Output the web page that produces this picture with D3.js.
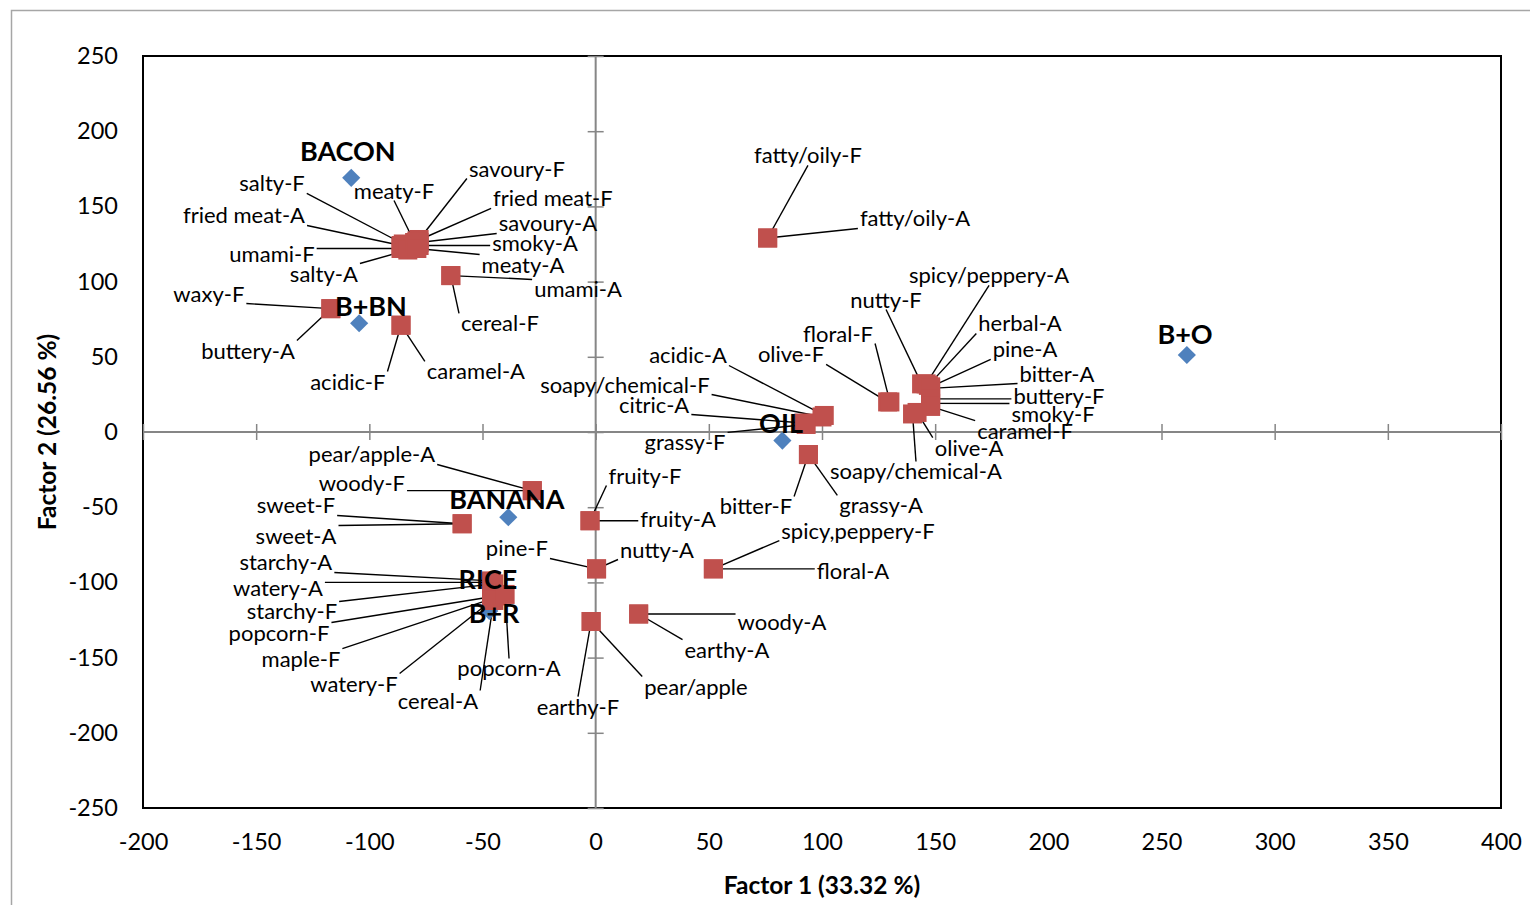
<!DOCTYPE html>
<html><head><meta charset="utf-8">
<script src="https://cdn.jsdelivr.net/npm/d3@7"></script>
<style>body{margin:0;background:#fff} svg{display:block} text{font-family:Lato,"Open Sans",sans-serif}</style>
</head><body>
<svg id="c" width="1530" height="905"></svg>
<script>
// ---- data ----
const attrNames = ["salty-F","fried meat-A","umami-F","salty-A","meaty-F","savoury-F","fried meat-F","savoury-A","smoky-A","meaty-A",
  "umami-A","cereal-F","waxy-F","buttery-A","acidic-F","caramel-A","fatty/oily-F","fatty/oily-A",
  "acidic-A","soapy/chemical-F","citric-A","grassy-F","bitter-F","grassy-A","olive-F","floral-F","nutty-F","spicy/peppery-A",
  "herbal-A","pine-A","bitter-A","buttery-F","smoky-F","caramel-F","olive-A","soapy/chemical-A",
  "pear/apple-A","woody-F","sweet-F","sweet-A","fruity-F","fruity-A","pine-F","nutty-A","spicy,peppery-F","floral-A",
  "woody-A","earthy-A","pear/apple","earthy-F",
  "starchy-A","watery-A","starchy-F","popcorn-F","maple-F","watery-F","cereal-A","popcorn-A"];
const attrX = [-85,-86,-86,-83,-80,-78,-79,-78,-78,-79,
  -64,-64,-117,-117,-86,-86,76,76,
  101,100,92,93,94,94,129,130,144,146,
  147,148,148,148,148,148,142,140,
  -28,-28,-59,-59,-2.5,-2.5,0.4,0.4,52,52,
  19,19,-2,-2,
  -46,-46,-45,-44,-46,-46,-45,-40];
const attrY = [125,124,122,121,126,128,127,126,124,122,
  104,104,82,82,71,71,129,129,
  11,10,6,5,-15,-15,20,20,32,32,
  31,30,29,22,19,17,13,12,
  -39,-39,-61,-61,-59,-59,-91,-91,-91,-91,
  -121,-121,-126,-126,
  -99,-100,-101,-109,-111,-112,-112,-108];
// label anchor (centre of text) in data units
const attrLabelX = [-143,-155.4,-143,-120.1,-89.1,-34.8,-18.9,-21.1,-26.8,-32.1,
  -7.8,-42.3,-170.9,-153.6,-109.5,-52.9,93.8,141.1,
  40.8,12.9,25.8,39.5,70.8,126.1,86.3,107.1,128.3,173.8,
  187.5,189.7,203.8,204.7,202.1,189.7,165.0,141.5,
  -98.9,-103.3,-132.4,-132.4,21.8,36.4,-34.8,27.1,115.9,113.7,
  82.3,58.0,44.3,-7.8,
  -136.9,-140.4,-134.2,-139.9,-130.2,-106.8,-69.7,-38.3];
const attrLabelY = [165.6,144.3,119.0,105.7,160.9,175.5,155.6,139.0,125.7,111.7,
  95.1,72.5,92.4,54.5,33.9,40.6,184.2,142.3,
  51.2,31.9,18.6,-6.6,-49.2,-48.5,51.9,65.8,88.4,104.4,
  72.5,55.2,39.2,24.6,12.6,1.3,-10.0,-25.9,
  -14.6,-33.9,-48.5,-68.5,-28.6,-57.2,-77.1,-77.8,-65.2,-92.4,
  -126.3,-144.3,-168.9,-182.2,
  -86.4,-103.1,-119.0,-133.0,-150.3,-166.9,-178.2,-156.9];

const sampleNames = ["BACON","B+BN","OIL","B+O","BANANA","RICE","B+R"];
const sampleX = [-108,-104.5,82.5,261.2,-38.6,-44,-47];
const sampleY = [169,72.3,-5.7,51.2,-56.7,-103,-119];
const sampleLabelX = [-109.5,-99.3,81.9,260.4,-39.2,-47.6,-44.9];
const sampleLabelY = [187.5,84.4,6.0,65.8,-44.5,-97.1,-119.7];

const xTicks = [-200,-150,-100,-50,0,50,100,150,200,250,300,350,400];
const yTicks = [-250,-200,-150,-100,-50,0,50,100,150,200,250];
const xTitle = "Factor 1 (33.32 %)";
const yTitle = "Factor 2 (26.56 %)";

// ---- drawing ----
const svg = d3.select("#c");
const x = d3.scaleLinear().domain([-200,400]).range([143,1501]);
const y = d3.scaleLinear().domain([-250,250]).range([808,56]);
const AX = "#868686";

svg.append("rect").attr("x",11.5).attr("y",10.5).attr("width",1540).attr("height",910)
  .attr("fill","none").attr("stroke","#a6a6a6").attr("stroke-width",1.5);

svg.append("rect").attr("x",x(-200)).attr("y",y(250)).attr("width",x(400)-x(-200)).attr("height",y(-250)-y(250))
  .attr("fill","none").attr("stroke","#000").attr("stroke-width",2);

// axis lines through origin
svg.append("line").attr("x1",x(-200)).attr("x2",x(400)).attr("y1",y(0)).attr("y2",y(0)).attr("stroke",AX).attr("stroke-width",2);
svg.append("line").attr("x1",x(0)).attr("x2",x(0)).attr("y1",y(250)).attr("y2",y(-250)).attr("stroke",AX).attr("stroke-width",2);

// crossing tick marks
const gxT = svg.append("g").attr("transform",`translate(0,${y(0)-8})`)
  .call(d3.axisBottom(x).tickValues(xTicks).tickSize(16).tickFormat(""));
gxT.select(".domain").remove();
gxT.selectAll("line").attr("stroke",AX).attr("stroke-width",1.5);
const gyT = svg.append("g").attr("transform",`translate(${x(0)+8},0)`)
  .call(d3.axisLeft(y).tickValues(yTicks).tickSize(16).tickFormat(""));
gyT.select(".domain").remove();
gyT.selectAll("line").attr("stroke",AX).attr("stroke-width",1.5);

// tick labels
const gxL = svg.append("g").attr("transform",`translate(0,${y(-250)})`)
  .call(d3.axisBottom(x).tickValues(xTicks).tickSize(0).tickPadding(25).tickFormat(d=>String(d)));
gxL.select(".domain").remove();
gxL.selectAll("text").attr("font-size",23.5).attr("fill","#000").style("font-family","Lato");
const gyL = svg.append("g").attr("transform",`translate(${x(-200)-25},0)`)
  .call(d3.axisLeft(y).tickValues(yTicks).tickSize(0).tickPadding(0).tickFormat(d=>String(d)));
gyL.select(".domain").remove();
gyL.selectAll("text").attr("font-size",23.5).attr("fill","#000").style("font-family","Lato");

// axis titles
svg.append("text").attr("x",822).attr("y",884).attr("text-anchor","middle").attr("dominant-baseline","central")
  .attr("font-size",24.5).attr("font-weight","bold").text(xTitle);
svg.append("text").attr("transform","translate(46,432) rotate(-90)").attr("text-anchor","middle").attr("dominant-baseline","central")
  .attr("font-size",24.5).attr("font-weight","bold").text(yTitle);

const attrs = attrNames.map((n,i)=>({name:n,x:attrX[i],y:attrY[i],lx:attrLabelX[i],ly:attrLabelY[i]}));
const samples = sampleNames.map((n,i)=>({name:n,x:sampleX[i],y:sampleY[i],lx:sampleLabelX[i],ly:sampleLabelY[i]}));

const lineG = svg.append("g");
const diaG = svg.append("g");
const sqG = svg.append("g");
const labG = svg.append("g");

diaG.selectAll("path").data(samples).join("path")
  .attr("d", d3.symbol(d3.symbolSquare, 165)())
  .attr("transform", d=>`translate(${x(d.x)},${y(d.y)}) rotate(45)`)
  .attr("fill","#4F81BD");

sqG.selectAll("rect").data(attrs).join("rect")
  .attr("x", d=>x(d.x)-9.5).attr("y", d=>y(d.y)-9.5).attr("width",19).attr("height",19)
  .attr("fill","#C0504D");

const at = labG.selectAll("text.a").data(attrs).join("text").attr("class","a")
  .attr("x", d=>x(d.lx)).attr("y", d=>y(d.ly)).attr("text-anchor","middle").attr("dominant-baseline","central")
  .attr("font-size",22).attr("fill","#000").text(d=>d.name);

labG.selectAll("text.s").data(samples).join("text").attr("class","s")
  .attr("x", d=>x(d.lx)).attr("y", d=>y(d.ly)).attr("text-anchor","middle").attr("dominant-baseline","central")
  .attr("font-size",27).attr("font-weight","bold").attr("fill","#000").text(d=>d.name);

// leader lines
at.each(function(d){
  const b = this.getBBox();
  const pad = 2;
  const L=b.x-pad, R=b.x+b.width+pad, T=b.y+4, B=b.y+b.height-3;
  const px=x(d.x), py=y(d.y);
  let sx, sy;
  if (px < L || px > R) {
    sx = px < L ? L : R;
    sy = Math.max(T, Math.min(B, py));
  } else {
    sx = b.x + b.width/2;
    sy = py < T ? T : B;
  }
  lineG.append("line").attr("x1",sx).attr("y1",sy).attr("x2",px).attr("y2",py)
    .attr("stroke","#000").attr("stroke-width",1.4);
});
</script>
</body></html>
